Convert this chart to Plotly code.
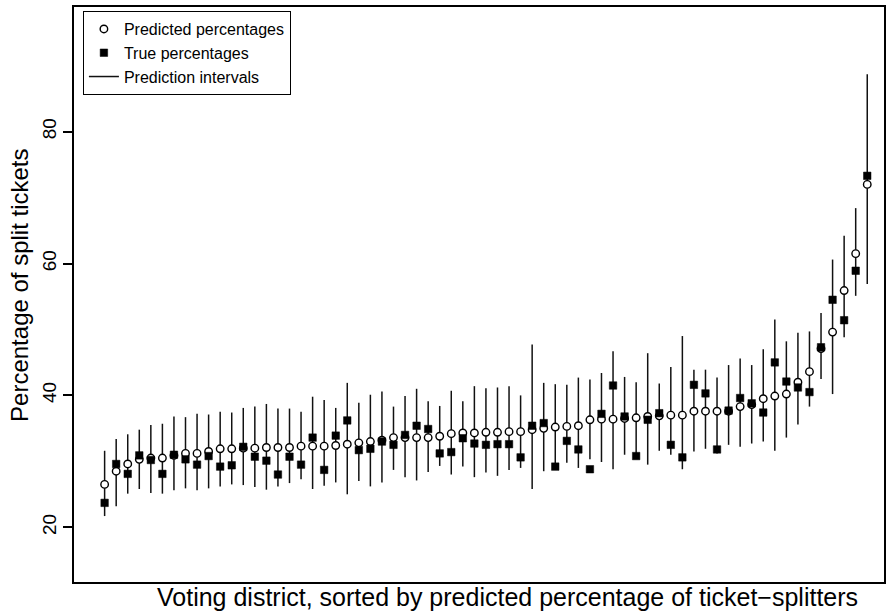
import plotly.graph_objects as go

# Predicted percentage of split tickets per voting district (sorted ascending)
predicted = [
    26.5, 28.5, 29.6, 30.3, 30.5, 30.5, 30.9, 31.2, 31.2, 31.5,
    31.9, 31.9, 32.0, 32.0, 32.1, 32.1, 32.1, 32.3, 32.3, 32.3,
    32.4, 32.6, 32.8, 33.0, 33.2, 33.6, 33.6, 33.6, 33.6, 33.8,
    34.2, 34.3, 34.3, 34.4, 34.4, 34.5, 34.5, 34.8, 35.0, 35.2,
    35.3, 35.4, 36.3, 36.4, 36.4, 36.5, 36.6, 36.8, 36.9, 37.0,
    37.0, 37.6, 37.6, 37.6, 37.6, 38.3, 38.6, 39.5, 39.9, 40.2,
    42.0, 43.6, 47.1, 49.6, 55.9, 61.5, 72.0,
]

# Observed (true) percentage of split tickets
true_pct = [
    23.7, 29.6, 28.1, 30.9, 30.2, 28.1, 31.0, 30.3, 29.5, 30.8,
    29.2, 29.4, 32.2, 30.7, 30.1, 28.0, 30.7, 29.5, 33.6, 28.7,
    33.9, 36.2, 31.7, 31.9, 33.0, 32.5, 34.0, 35.4, 34.9, 31.2,
    31.4, 33.5, 32.7, 32.5, 32.6, 32.6, 30.6, 35.4, 35.8, 29.2,
    33.1, 31.8, 28.8, 37.2, 41.5, 36.8, 30.8, 36.3, 37.3, 32.5,
    30.6, 41.6, 40.3, 31.8, 37.7, 39.6, 38.8, 37.4, 45.0, 42.1,
    41.2, 40.5, 47.3, 54.5, 51.4, 58.9, 73.3,
]

# Prediction interval bounds
interval_low = [
    21.7, 23.2, 25.1, 25.8, 25.2, 25.1, 25.6, 25.9, 25.6, 25.9,
    26.2, 26.5, 26.4, 26.1, 25.7, 26.2, 26.7, 27.3, 25.8, 26.3,
    26.8, 25.0, 27.0, 26.2, 26.8, 28.7, 27.6, 27.1, 28.4, 29.3,
    28.0, 29.2, 27.6, 28.3, 27.8, 28.7, 29.0, 25.8, 28.5, 28.7,
    29.8, 29.0, 30.3, 29.9, 28.8, 31.0, 30.4, 29.5, 31.6, 31.0,
    28.8, 31.5, 31.9, 31.2, 32.5, 32.2, 32.7, 33.0, 31.6, 33.6,
    35.6, 38.3, 42.5, 40.2, 48.8, 55.1, 56.9,
]
interval_high = [
    31.6, 33.4, 34.1, 34.8, 35.5, 35.7, 36.8, 36.7, 37.2, 37.1,
    37.5, 37.4, 38.1, 38.3, 38.7, 38.0, 38.0, 37.5, 39.8, 39.3,
    38.1, 41.9, 38.9, 40.1, 40.6, 38.3, 39.9, 41.0, 39.1, 38.4,
    40.7, 39.1, 41.4, 41.1, 41.2, 41.4, 40.0, 47.7, 41.9, 41.7,
    41.6, 42.7, 42.4, 43.4, 46.7, 42.8, 42.0, 46.4, 41.8, 44.3,
    49.0, 43.9, 43.9, 42.7, 44.6, 45.6, 44.6, 47.0, 51.5, 48.2,
    49.5, 49.7, 52.5, 60.6, 64.2, 68.4, 88.7,
]

y_ticks = [20, 40, 60, 80]

district = list(range(1, len(predicted) + 1))

# Vertical segments for the intervals, separated by gaps
seg_x, seg_y = [], []
for d, lo, hi in zip(district, interval_low, interval_high):
    seg_x += [d, d, None]
    seg_y += [lo, hi, None]

FONT = "Liberation Sans, Arial, Helvetica, sans-serif"

fig = go.Figure()

fig.add_trace(go.Scatter(
    x=seg_x, y=seg_y, mode="lines",
    line=dict(color="#111111", width=1.5),
    name="Prediction intervals", legendrank=3,
    hoverinfo="skip",
))

fig.add_trace(go.Scatter(
    x=district, y=predicted, mode="markers",
    marker=dict(symbol="circle", size=7.5, color="white",
                line=dict(color="black", width=1.4)),
    name="Predicted percentages", legendrank=1,
))

fig.add_trace(go.Scatter(
    x=district, y=true_pct, mode="markers",
    marker=dict(symbol="square", size=7.5, color="black",
                line=dict(color="black", width=0.5)),
    name="True percentages", legendrank=2,
))

fig.update_layout(
    width=891, height=613,
    margin=dict(l=74, r=6, t=5, b=31),
    paper_bgcolor="white", plot_bgcolor="white",
    font=dict(family=FONT, color="black", size=18),
    showlegend=True,
    legend=dict(
        x=0.011, y=0.993, xanchor="left", yanchor="top",
        bordercolor="black", borderwidth=1,
        font=dict(size=16, family=FONT),
        bgcolor="white",
        tracegroupgap=0,
        itemwidth=30,
    ),
    annotations=[
        dict(text="Voting district, sorted by predicted percentage of ticket\u2212splitters",
             xref="paper", yref="paper", x=0.535, y=-0.026,
             xanchor="center", yanchor="middle", showarrow=False,
             font=dict(size=25, family=FONT, color="black")),
        dict(text="Percentage of split tickets",
             xref="paper", yref="paper", x=-0.0666, y=0.515,
             xanchor="center", yanchor="middle", showarrow=False, textangle=-90,
             font=dict(size=24, family=FONT, color="black")),
    ],
)

fig.update_xaxes(
    range=[-1.65, 68.45],
    showticklabels=False, ticks="",
    showgrid=False, zeroline=False,
    showline=True, mirror=True, linecolor="black", linewidth=1.5,
)

fig.update_yaxes(
    range=[11.7, 98.9],
    tickvals=y_ticks, ticktext=[str(v) for v in y_ticks],
    tickangle=-90, ticks="outside", ticklen=9, tickwidth=1.5, tickcolor="black",
    tickfont=dict(size=19, family=FONT),
    showgrid=False, zeroline=False,
    showline=True, mirror=True, linecolor="black", linewidth=1.5,
)

fig.write_html("out.html")
